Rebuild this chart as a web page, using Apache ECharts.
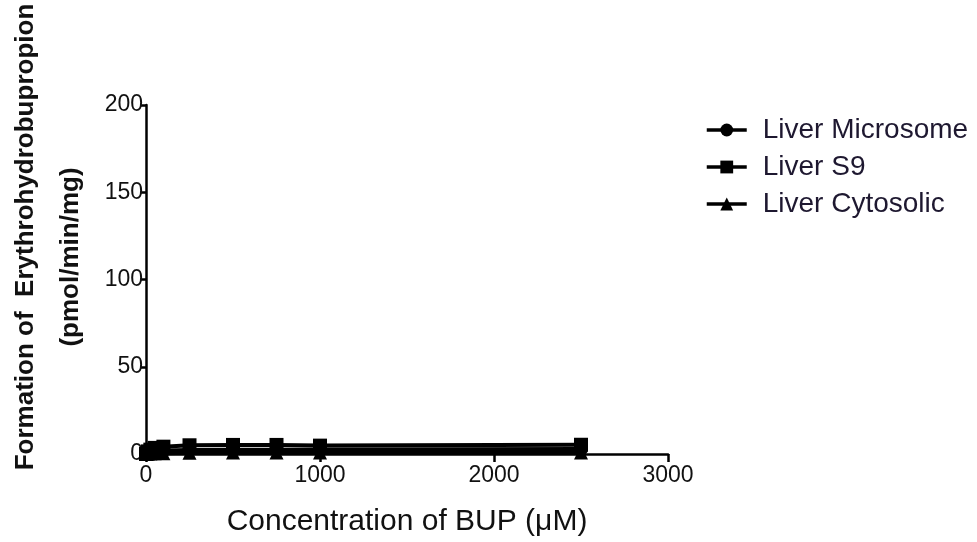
<!DOCTYPE html>
<html>
<head>
<meta charset="utf-8">
<script src="https://cdn.jsdelivr.net/npm/echarts@6/dist/echarts.min.js"></script>
<style>
  html, body { margin: 0; padding: 0; background: #fff; }
  #chart { width: 977px; height: 542px; }
</style>
</head>
<body>
<div id="chart"></div>
<script>
// BUP concentrations (µM)
const concentrations = [0, 10, 25, 50, 100, 250, 500, 750, 1000, 2500];
// Formation rate (pmol/min/mg) for each fraction
const microsome = [0, 0.8, 1.2, 1.6, 2.0, 2.3, 2.5, 2.5, 2.6, 2.8];
const s9 = [0, 1.5, 2.5, 3.5, 4.2, 5.0, 5.2, 5.2, 4.8, 5.3];
const cytosolic = [0, 0.2, 0.3, 0.4, 0.5, 0.7, 0.8, 0.8, 0.8, 0.9];
const seriesNames = ['Liver Microsome', 'Liver S9', 'Liver Cytosolic'];
const xTicks = [0, 1000, 2000, 3000];
const yTicks = [0, 50, 100, 150, 200];

const pairs = (ys) => concentrations.map((x, i) => [x, ys[i]]);

const chart = echarts.init(document.getElementById('chart'));
const FONT = '"Liberation Sans", Arial, sans-serif';

function lineSeries(name, ys, symbol, size) {
  return {
    name: name,
    type: 'line',
    data: pairs(ys),
    symbol: symbol,
    symbolSize: size,
    showAllSymbol: true,
    lineStyle: { color: '#000', width: 4 },
    itemStyle: { color: '#000', borderWidth: 0 },
    emphasis: { disabled: true },
    animation: false
  };
}

chart.setOption({
  backgroundColor: '#fff',
  animation: false,
  grid: { left: 146, right: 309, top: 105, bottom: 87, containLabel: false },
  xAxis: {
    type: 'value',
    min: xTicks[0],
    max: xTicks[xTicks.length - 1],
    interval: 1000,
    name: 'Concentration of BUP (\u03bcM)',
    nameLocation: 'middle',
    nameGap: 53,
    nameTextStyle: { fontFamily: FONT, fontSize: 30, color: '#111' },
    axisLine: { show: true, lineStyle: { color: '#000', width: 2.5 } },
    axisTick: { show: true, length: 8, lineStyle: { color: '#000', width: 2.5 } },
    axisLabel: { fontFamily: FONT, fontSize: 23, color: '#111', margin: 10, formatter: (v) => String(v) },
    splitLine: { show: false }
  },
  yAxis: {
    type: 'value',
    min: yTicks[0],
    max: yTicks[yTicks.length - 1],
    interval: 50,
    axisLine: { show: true, lineStyle: { color: '#000', width: 2.5 } },
    axisTick: { show: true, length: 6, lineStyle: { color: '#000', width: 2.5 } },
    axisLabel: { fontFamily: FONT, fontSize: 23, color: '#111', margin: 3, formatter: (v) => String(v) },
    splitLine: { show: false }
  },
  legend: {
    orient: 'vertical',
    left: 700,
    top: 110,
    itemWidth: 40,
    itemHeight: 16,
    itemGap: 7,
    data: seriesNames,
    lineStyle: { width: 3.5, color: '#000' },
    textStyle: { fontFamily: FONT, fontSize: 28, color: '#1e1830', lineHeight: 30, padding: [0, 0, 0, 11] }
  },
  graphic: [
    {
      type: 'text',
      x: 26, y: 237,
      rotation: Math.PI / 2,
      style: {
        text: 'Formation of  Erythrohydrobupropion',
        font: 'bold 26px ' + FONT,
        fill: '#111',
        align: 'center',
        verticalAlign: 'middle'
      }
    },
    {
      type: 'text',
      x: 71, y: 257,
      rotation: Math.PI / 2,
      style: {
        text: '(pmol/min/mg)',
        font: 'bold 26px ' + FONT,
        fill: '#111',
        align: 'center',
        verticalAlign: 'middle'
      }
    }
  ],
  series: [
    lineSeries(seriesNames[0], microsome, 'circle', 14),
    lineSeries(seriesNames[1], s9, 'rect', 14),
    lineSeries(seriesNames[2], cytosolic, 'triangle', 14)
  ]
});
</script>
</body>
</html>
